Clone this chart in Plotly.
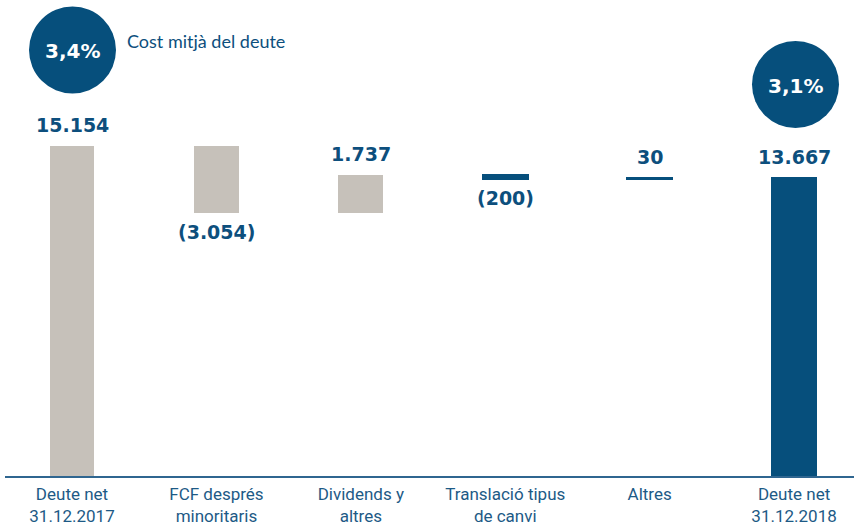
import plotly.graph_objects as go

# Net debt bridge (EUR millions)
categories = ["Deute net<br>31.12.2017", "FCF després<br>minoritaris", "Dividends y<br>altres",
              "Translació tipus<br>de canvi", "Altres", "Deute net<br>31.12.2018"]
values = [15154, -3054, 1737, -200, 30, 13667]
kinds = ["total", "delta", "delta", "delta", "delta", "total"]
value_labels = ["15.154", "(3.054)", "1.737", "(200)", "30", "13.667"]
avg_cost_labels = ["3,4%", "3,1%"]
avg_cost_caption = "Cost mitjà del deute"

GREY = "#c6c1ba"
BLUE = "#064f7c"
TEXT_BLUE = "#0d4f7d"
NUM_FONT = "DejaVu Sans, Open Sans, sans-serif"

# running totals -> floating bar bases
bases, heights, colors, tops, bottoms = [], [], [], [], []
running = 0
for i, (v, k) in enumerate(zip(values, kinds)):
    if k == "total":
        lo, hi = 0, v
        running = v
    else:
        new = running + v
        lo, hi = min(running, new), max(running, new)
        running = new
    bases.append(lo)
    heights.append(hi - lo)
    tops.append(hi)
    bottoms.append(lo)
    if k == "total" and i == len(values) - 1:
        colors.append(BLUE)
    elif k == "delta" and abs(v) < 500:
        colors.append(BLUE)
    else:
        colors.append(GREY)

x_idx = list(range(len(categories)))

fig = go.Figure()
fig.add_trace(go.Bar(
    x=x_idx, y=heights, base=bases,
    marker=dict(color=colors, line=dict(color=colors, width=[0 if c == GREY else 2 for c in colors])),
    width=[0.31 if c == GREY or k == "total" else 0.31 for c, k in zip(colors, kinds)],
    hoverinfo="skip",
))

ann = []
for i, (v, lab) in enumerate(zip(values, value_labels)):
    if v >= 0:
        ann.append(dict(x=i, y=tops[i], xref="x", yref="y", text=f"<b>{lab}</b>",
                        showarrow=False, xanchor="center", yanchor="bottom", yshift=8,
                        font=dict(family=NUM_FONT, size=19, color=TEXT_BLUE)))
    else:
        ann.append(dict(x=i, y=bottoms[i], xref="x", yref="y", text=f"<b>{lab}</b>",
                        showarrow=False, xanchor="center", yanchor="top", yshift=-6,
                        font=dict(family=NUM_FONT, size=19, color=TEXT_BLUE)))

# average cost of debt bubbles
W, H, L, B = 854, 532, 5, 56
pw, ph = W - L, H - B


def px_to_paper(px, py):
    return (px - L) / pw, 1 - py / ph


shapes = []
for (cx, cy), lab in zip([(72.5, 50), (795.5, 84.5)], avg_cost_labels):
    r = 43.5
    x0, y1 = px_to_paper(cx - r, cy - r)
    x1, y0 = px_to_paper(cx + r, cy + r)
    shapes.append(dict(type="circle", xref="paper", yref="paper", x0=x0, x1=x1, y0=y0, y1=y1,
                       fillcolor=BLUE, line=dict(width=0)))
    mx, my = px_to_paper(cx, cy + 1)
    ann.append(dict(x=mx, y=my, xref="paper", yref="paper", text=f"<b>{lab}</b>", showarrow=False,
                    xanchor="center", yanchor="middle",
                    font=dict(family=NUM_FONT, size=20, color="white")))

tx, ty = px_to_paper(125, 41)
ann.append(dict(x=tx, y=ty, xref="paper", yref="paper", text=avg_cost_caption, showarrow=False,
                xanchor="left", yanchor="middle",
                font=dict(family="Lato, Open Sans, sans-serif", size=18, color=TEXT_BLUE)))

fig.update_layout(
    width=W, height=H,
    margin=dict(l=L, r=0, t=0, b=B),
    plot_bgcolor="white", paper_bgcolor="white",
    showlegend=False,
    annotations=ann, shapes=shapes,
    xaxis=dict(tickmode="array", tickvals=x_idx, ticktext=categories,
               range=[-0.464, 5.415], showgrid=False, zeroline=False,
               showline=True, linecolor="#2f6690", linewidth=1.5, ticks="",
               ticklabelstandoff=2,
               tickfont=dict(family="Roboto, sans-serif", size=17, color="#1d5a86")),
    yaxis=dict(range=[0, 21860], visible=False, showgrid=False, zeroline=False),
    bargap=0,
)

fig.write_html("out.html")
